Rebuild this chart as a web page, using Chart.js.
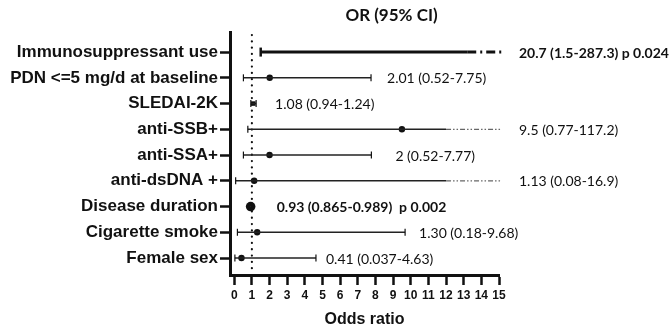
<!DOCTYPE html>
<html>
<head>
<meta charset="utf-8">
<script src="https://cdn.jsdelivr.net/npm/chart.js@4"></script>
<style>
  html, body { margin: 0; padding: 0; background: #fff; }
  #wrap { width: 670px; height: 329px; }
</style>
</head>
<body>
<div id="wrap"><canvas id="forest" width="670" height="329"></canvas></div>
<script>
//Forest plot data
const rows = ["Immunosuppressant use", "PDN <=5 mg/d at baseline", "SLEDAI-2K", "anti-SSB+",
    "anti-SSA+", "anti-dsDNA +", "Disease duration", "Cigarette smoke", "Female sex"];
const oddsRatio = [20.7, 2.01, 1.08, 9.5, 2, 1.13, 0.93, 1.30, 0.41];
const ciLow = [1.5, 0.52, 0.94, 0.77, 0.52, 0.08, 0.865, 0.18, 0.037];
const ciHigh = [287.3, 7.75, 1.24, 117.2, 7.77, 16.9, 0.989, 9.68, 4.63];
const notes = ["20.7 (1.5-287.3) p 0.024", "2.01 (0.52-7.75)", "1.08 (0.94-1.24)", "9.5 (0.77-117.2)",
    "2 (0.52-7.77)", "1.13 (0.08-16.9)", "0.93 (0.865-0.989)  p 0.002", "1.30 (0.18-9.68)", "0.41 (0.037-4.63)"];
const boldNotes = [true, false, false, false, false, false, true, false, false];
const xTicks = [0, 1, 2, 3, 4, 5, 6, 7, 8, 9, 10, 11, 12, 13, 14, 15];
const refLine = 1;

const xMax = 15;
// where the solid part of a truncated interval stops
const breakAt = [13.2, 0, 0, 12, 0, 12, 0, 0, 0];
// gap between interval end and its note, px
const noteGap = [0, 16, 19, 0, 24, 0, 25, 14, 10];

const ink = "#111";

const ciSets = rows.map((r, i) => {
    const cut = ciHigh[i] > xMax;
    const pts = cut
        ? [{x: ciLow[i], y: i}, {x: breakAt[i], y: i}, {x: xMax + 0.15, y: i}]
        : [{x: ciLow[i], y: i}, {x: ciHigh[i], y: i}];
    const thick = i === 0;
    return {
        type: "line",
        data: pts,
        showLine: true,
        borderColor: thick ? ink : "#222",
        borderWidth: thick ? 3 : 1.4,
        pointStyle: "line",
        rotation: 90,
        pointRadius: pts.map((p, k) => (k === 0 || (!cut && k === 1)) ? (thick ? 4.5 : 3.5) : 0),
        pointBorderWidth: thick ? 2.5 : 1.2,
        pointBorderColor: ink,
        clip: false,
        segment: {
            borderDash: ctx => ctx.p0DataIndex === 1 ? (thick ? [9, 4, 2, 4] : [5, 2, 1.5, 2, 1.5, 2]) : undefined,
            borderColor: ctx => ctx.p0DataIndex === 1 && !thick ? "#666" : undefined,
            borderWidth: ctx => ctx.p0DataIndex === 1 && !thick ? 1.3 : undefined,
        },
    };
});

// off-scale estimates get no dot
const shown = oddsRatio.map((v, i) => i).filter(i => oddsRatio[i] <= xMax);
const pointSet = {
    type: "scatter",
    data: shown.map(i => ({x: oddsRatio[i], y: i})),
    pointRadius: shown.map(i => i === 6 ? 4.8 : 3.2),
    pointStyle: shown.map(i => i === 2 ? "rect" : "circle"),
    backgroundColor: ink,
    borderColor: ink,
    borderWidth: 0,
};

const extras = {
    id: "extras",
    beforeDatasetsDraw(chart) {
        const {ctx, chartArea: a, scales: {x}} = chart;
        const px = x.getPixelForValue(refLine);
        ctx.save();
        ctx.strokeStyle = ink;
        ctx.lineWidth = 2.2;
        ctx.lineCap = "round";
        ctx.setLineDash([0.1, 6.2]);
        ctx.beginPath();
        ctx.moveTo(px, a.top + 3);
        ctx.lineTo(px, a.bottom - 2);
        ctx.stroke();
        ctx.restore();
    },
    afterDraw(chart) {
        const {ctx, chartArea: a, scales: {x, y}} = chart;
        ctx.save();
        ctx.fillStyle = ink;
        ctx.textBaseline = "middle";
        notes.forEach((t, i) => {
            ctx.font = (boldNotes[i] ? "bold " : "") + "14px Lato";
            const nx = ciHigh[i] > xMax
                ? a.right + 20
                : x.getPixelForValue(Math.max(ciHigh[i], oddsRatio[i])) + noteGap[i];
            ctx.fillText(t, nx, y.getPixelForValue(i) + 1);
        });
        ctx.font = "bold 17px Lato";
        ctx.textAlign = "center";
        ctx.fillText("OR (95% CI)", (a.left + a.right) / 2 + 27, 16);
        ctx.restore();
    },
};

new Chart(document.getElementById("forest"), {
    type: "scatter",
    data: {datasets: [...ciSets, pointSet]},
    options: {
        responsive: false,
        animation: false,
        devicePixelRatio: 1,
        layout: {padding: {top: 32, right: 171, bottom: 0, left: 0}},
        plugins: {legend: {display: false}, tooltip: {enabled: false}},
        scales: {
            x: {
                type: "linear",
                min: -0.24,
                max: xMax,
                afterFit: s => { s.height = 54; },
                afterBuildTicks: s => { s.ticks = xTicks.map(v => ({value: v})); },
                grid: {drawOnChartArea: false, drawTicks: true, tickLength: 10, tickWidth: 2.5, tickColor: ink},
                border: {display: true, width: 3, color: ink},
                ticks: {color: ink, padding: 3, maxRotation: 0, autoSkip: false,
                    font: {family: "Liberation Sans", size: 12, weight: "bold"}},
                title: {display: true, text: "Odds ratio", color: ink, padding: {top: 0, bottom: 0},
                    font: {family: "Liberation Sans", size: 16, weight: "bold", lineHeight: 1.2}},
            },
            y: {
                type: "linear",
                reverse: true,
                min: -0.78,
                max: 8.66,
                afterFit: s => { s.width = 230; },
                afterBuildTicks: s => { s.ticks = rows.map((r, i) => ({value: i})); },
                grid: {drawOnChartArea: false, drawTicks: true, tickLength: 10, tickWidth: 2.5, tickColor: ink},
                border: {display: true, width: 3, color: ink},
                ticks: {color: ink, padding: 2, autoSkip: false,
                    callback: v => rows[v],
                    font: {family: "Liberation Sans", size: 17, weight: "bold"}},
            },
        },
    },
    plugins: [extras],
});
</script>
</body>
</html>
